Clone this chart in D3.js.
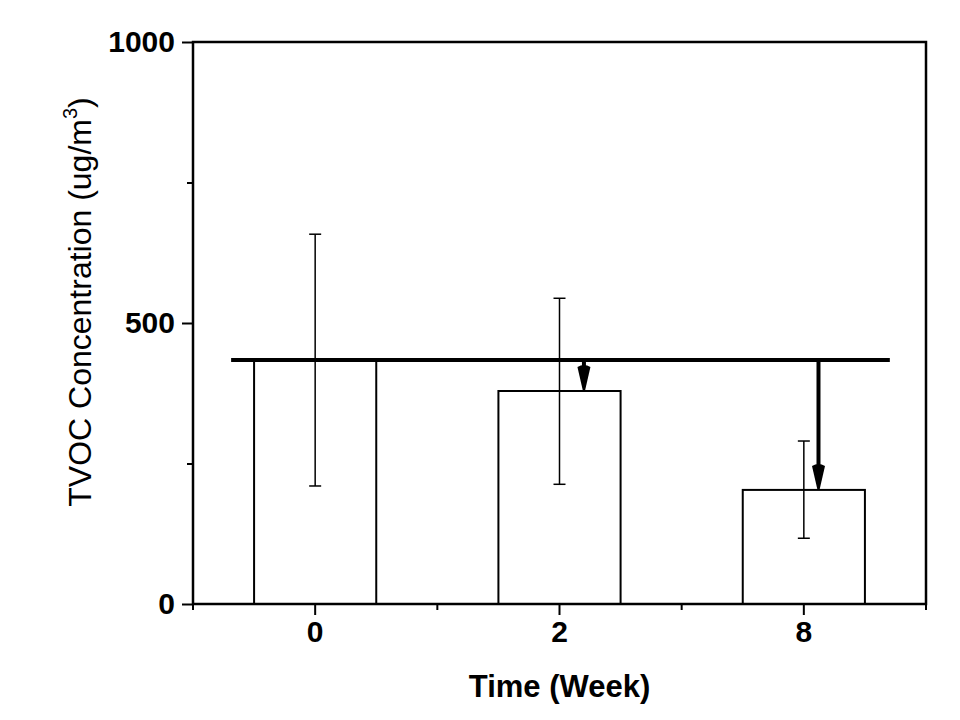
<!DOCTYPE html>
<html><head><meta charset="utf-8">
<script src="https://cdn.jsdelivr.net/npm/d3@7"></script>
<style>body{margin:0;background:#fff}svg{display:block}</style>
</head><body>
<svg id="c" width="960" height="720"></svg>
<script>
const categories = ["0", "2", "8"];
const means = [434, 379, 203];
const errUpper = [658, 544, 290];
const errLower = [210, 213, 117];
const yTicks = [0, 500, 1000];
const yMinorTicks = [250, 750];
const refValue = 434;
const arrowOffsets = [null, 0.1, 0.06]; // fraction of band from center

const svg = d3.select("#c");
const W = 960, H = 720;
const m = {left:193, right:34, top:42, bottom:116};
const x = d3.scaleBand().domain(categories).range([m.left, W - m.right]).padding(0);
const y = d3.scaleLinear().domain([0, 1000]).range([H - m.bottom, m.top]);
const bw = x.bandwidth();
const cx = c => x(c) + bw / 2;

const font = "'Liberation Sans', Arial, sans-serif";

// bars
svg.selectAll("rect.bar").data(categories).join("rect")
  .attr("x", c => cx(c) - bw * 0.25)
  .attr("width", bw * 0.5)
  .attr("y", (c,i) => y(means[i]))
  .attr("height", (c,i) => y(0) - y(means[i]))
  .attr("fill", "#fff").attr("stroke", "#000").attr("stroke-width", 2);

// error bars
const eb = svg.append("g").attr("stroke", "#000").attr("stroke-width", 1.5);
categories.forEach((c, i) => {
  eb.append("line").attr("x1", cx(c)).attr("x2", cx(c)).attr("y1", y(errUpper[i])).attr("y2", y(errLower[i]));
  [errUpper[i], errLower[i]].forEach(v => {
    eb.append("line").attr("x1", cx(c) - 6).attr("x2", cx(c) + 6).attr("y1", y(v)).attr("y2", y(v));
  });
});

// reference line
svg.append("line")
  .attr("x1", cx(categories[0]) - bw * 0.344).attr("x2", cx(categories[2]) + bw * 0.352)
  .attr("y1", y(refValue)).attr("y2", y(refValue))
  .attr("stroke", "#000").attr("stroke-width", 4);

// arrows
categories.forEach((c, i) => {
  if (arrowOffsets[i] === null) return;
  const ax = cx(c) + bw * arrowOffsets[i];
  const y0 = y(refValue), y1 = y(means[i]);
  const headLen = Math.min(24, y1 - y0);
  svg.append("line").attr("x1", ax).attr("x2", ax).attr("y1", y0).attr("y2", y1 - headLen + 4)
    .attr("stroke", "#000").attr("stroke-width", 4);
  const hw = 6.5;
  svg.append("path")
    .attr("d", `M${ax - hw},${y1 - headLen} Q${ax},${y1 - headLen - 4} ${ax + hw},${y1 - headLen} L${ax + 1},${y1} L${ax - 1},${y1} Z`)
    .attr("fill", "#000");
});

// frame
svg.append("rect").attr("x", m.left).attr("y", m.top)
  .attr("width", W - m.right - m.left).attr("height", H - m.bottom - m.top)
  .attr("fill", "none").attr("stroke", "#000").attr("stroke-width", 2.5);

// y axis
const yAxis = svg.append("g").attr("transform", `translate(${m.left},0)`)
  .call(d3.axisLeft(y).tickValues(yTicks).tickSize(11).tickPadding(7).tickFormat(d3.format("d")));
yAxis.select(".domain").remove();
yAxis.selectAll(".tick line").attr("stroke-width", 2);
yAxis.selectAll("text").attr("font-family", font).attr("font-weight", "bold").attr("font-size", 30).attr("fill", "#000");
const yMinor = svg.append("g").attr("transform", `translate(${m.left},0)`)
  .call(d3.axisLeft(y).tickValues(yMinorTicks).tickSize(6).tickFormat(""));
yMinor.select(".domain").remove();
yMinor.selectAll(".tick line").attr("stroke-width", 2);

// x axis
const xAxis = svg.append("g").attr("transform", `translate(0,${H - m.bottom})`)
  .call(d3.axisBottom(x).tickSize(11).tickPadding(6));
xAxis.select(".domain").remove();
xAxis.selectAll(".tick line").attr("stroke-width", 2);
xAxis.selectAll("text").attr("font-family", font).attr("font-weight", "bold").attr("font-size", 30).attr("fill", "#000");
const bounds = categories.map(c => x(c)).concat([x(categories[categories.length-1]) + bw]);
svg.append("g").selectAll("line").data(bounds).join("line")
  .attr("x1", d => d).attr("x2", d => d)
  .attr("y1", H - m.bottom).attr("y2", H - m.bottom + 6)
  .attr("stroke", "#000").attr("stroke-width", 2);

// axis titles
svg.append("text").attr("x", (m.left + W - m.right) / 2).attr("y", 697)
  .attr("text-anchor", "middle").attr("font-family", font).attr("font-weight", "bold")
  .attr("font-size", 31).text("Time (Week)");

const yl = svg.append("text").attr("transform", `translate(91,302) rotate(-90)`)
  .attr("text-anchor", "middle").attr("font-family", font).attr("font-size", 32);
yl.append("tspan").text("TVOC Concentration (ug/m");
yl.append("tspan").attr("font-size", 20).attr("dy", -14).text("3");
yl.append("tspan").attr("dy", 14).text(")");
</script>
</body></html>
